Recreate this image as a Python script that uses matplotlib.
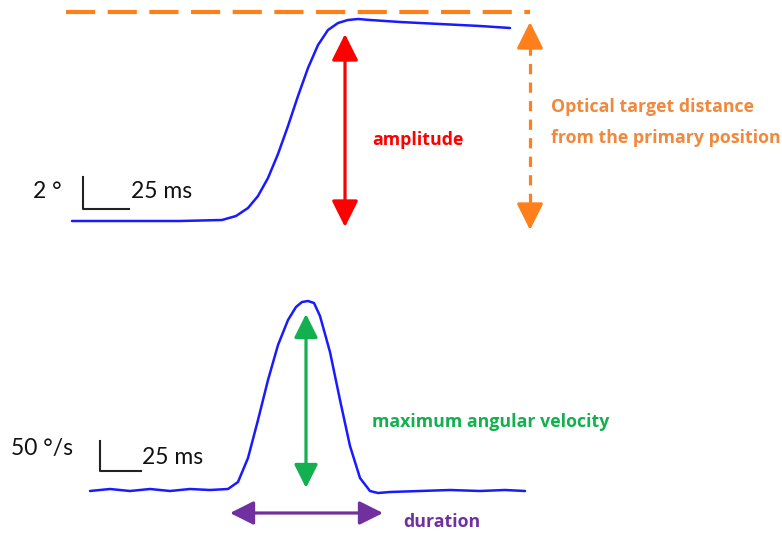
import matplotlib
matplotlib.use("Agg")
import matplotlib.pyplot as plt
from matplotlib.patches import FancyArrowPatch

# ---- data (canvas pixel units) ----
pos_x = [72, 120, 180, 222, 236, 248, 258, 268, 278, 288, 298, 308, 318, 328, 338, 348, 358, 370, 400, 440, 480, 510]
pos_y = [221, 221, 221, 220, 216, 208, 196, 178, 154, 126, 96, 68, 45, 30, 23, 20, 19, 20, 22, 24, 26, 28]

vel_x = [90, 110, 130, 150, 170, 190, 210, 228, 238, 248, 258, 268, 278, 288, 296, 302, 308, 314, 320, 330, 340, 350, 360, 370, 378, 390, 420, 450, 480, 505, 525]
vel_y = [491, 489, 491, 489, 491, 489, 490, 489, 482, 458, 420, 380, 345, 320, 307, 302, 301, 303, 316, 352, 400, 446, 478, 491, 493, 492, 491, 490, 491, 490, 491]

target_y = 12
labels = {
    "amp": "amplitude",
    "target1": "Optical target distance",
    "target2": "from the primary position",
    "vel": "maximum angular velocity",
    "dur": "duration",
}

W, H = 782, 533
fig = plt.figure(figsize=(W / 100, H / 100), dpi=100)
ax = fig.add_axes([0, 0, 1, 1])
ax.set_xlim(0, W)
ax.set_ylim(H, 0)
ax.axis("off")

blue = "#1a1aff"
orange = "#ff7f1a"
orange_txt = "#f0883e"
red = "#ff0000"
green = "#12b04f"
purple = "#7030a0"
bold_font = "Open Sans"
reg_font = "Lato"

ax.plot(pos_x, pos_y, color=blue, lw=1.8, solid_capstyle="round", solid_joinstyle="round")
ax.plot(vel_x, vel_y, color=blue, lw=1.8, solid_capstyle="round", solid_joinstyle="round")

# target dashed line
ax.plot([66, 530], [target_y, target_y], color=orange, lw=3, dashes=(7, 3))

HS = "head_length=0.9,head_width=0.45"

def arrow(p1, p2, color, lw=2.3, scale=18):
    a = FancyArrowPatch(p1, p2, arrowstyle="<|-|>," + HS,
                        mutation_scale=scale, color=color, lw=lw,
                        shrinkA=0, shrinkB=0)
    ax.add_patch(a)

def dashed_arrow(x, y1, y2, color, lw=2.3, scale=18):
    hl = 0.9 * scale * 100 / 72
    ax.plot([x, x], [y1 + hl, y2 - hl], color=color, lw=lw, dashes=(3.2, 2.6))
    for tip, base in ((y1, y1 + hl + 2), (y2, y2 - hl - 2)):
        a = FancyArrowPatch((x, base), (x, tip), arrowstyle="-|>," + HS,
                            mutation_scale=scale, color=color, lw=lw,
                            shrinkA=0, shrinkB=0)
        ax.add_patch(a)

arrow((345, 34), (345, 227), red)
dashed_arrow(530, 22, 230, orange)
arrow((306, 314), (306, 488), green, scale=16)
arrow((230, 513), (383, 513), purple, scale=16)

fs = 12.8
ax.text(372, 140, labels["amp"], color=red, fontsize=fs, fontweight="bold", family=bold_font, va="center")
ax.text(551, 107, labels["target1"], color=orange_txt, fontsize=fs, fontweight="bold", family=bold_font, va="center")
ax.text(551, 138, labels["target2"], color=orange_txt, fontsize=fs, fontweight="bold", family=bold_font, va="center")
ax.text(372, 422, labels["vel"], color=green, fontsize=fs, fontweight="bold", family=bold_font, va="center")
ax.text(403, 522, labels["dur"], color=purple, fontsize=fs, fontweight="bold", family=bold_font, va="center")

# scale bars
tfs = 16.5
ax.plot([83, 83, 129], [177, 209, 209], color="#222222", lw=1.5)
ax.text(33, 191, "2 °", fontsize=tfs, family=reg_font, va="center", color="#111111")
ax.text(131, 191, "25 ms", fontsize=tfs, family=reg_font, va="center", color="#111111")

ax.plot([100, 100, 141], [441, 471, 471], color="#222222", lw=1.5)
ax.text(11, 449, "50 °/s", fontsize=tfs, family=reg_font, va="center", color="#111111")
ax.text(142, 457, "25 ms", fontsize=tfs, family=reg_font, va="center", color="#111111")

fig.savefig("out.png", dpi=100)
